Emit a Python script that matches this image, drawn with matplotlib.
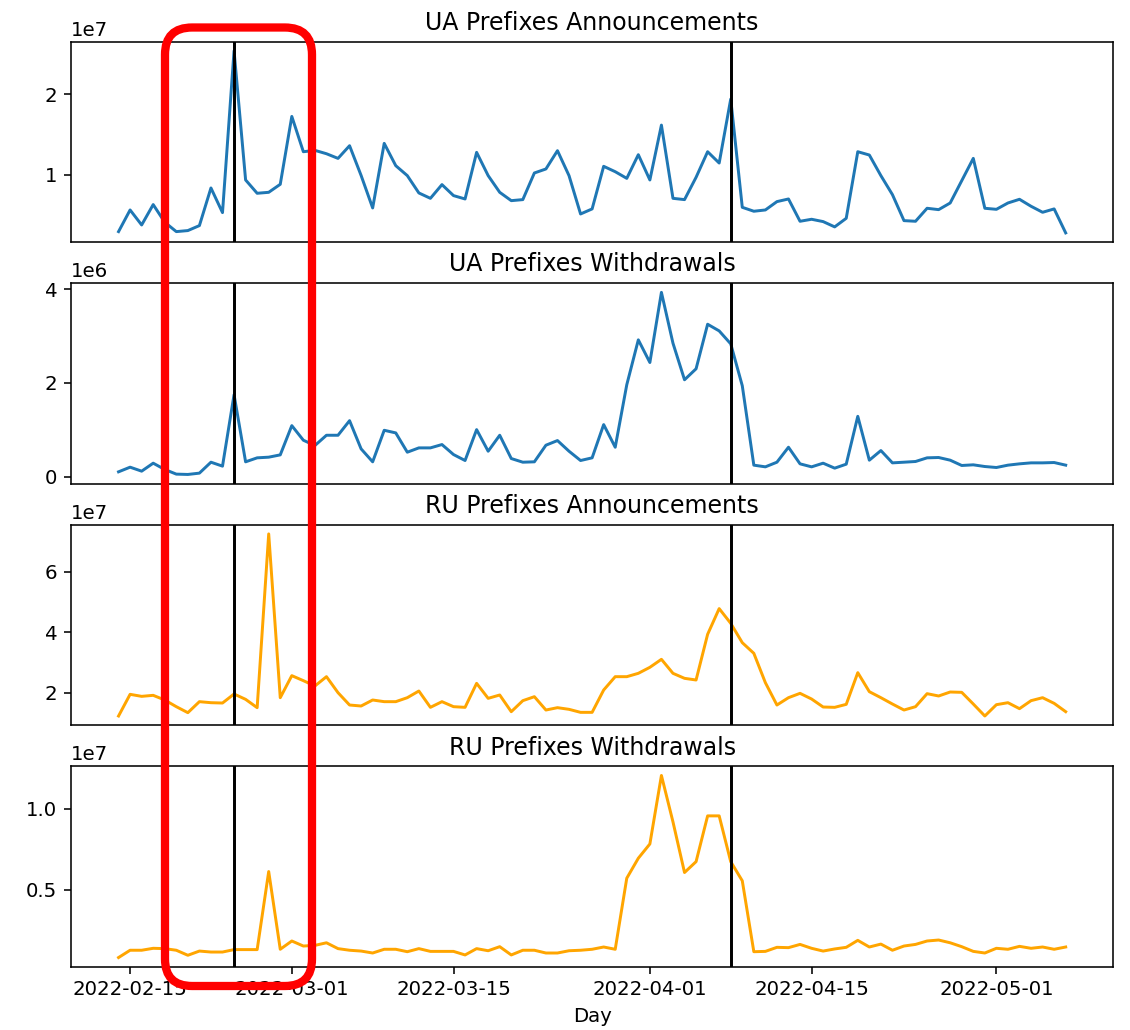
import numpy as np
import pandas as pd
from matplotlib import pyplot as plt
from matplotlib.patches import FancyBboxPatch

# daily values, 2022-02-14 .. 2022-05-07
days = pd.date_range("2022-02-14", "2022-05-07", freq="D")

ua_ann = [0.29, 0.56, 0.373, 0.627, 0.407, 0.29, 0.303, 0.365, 0.834, 0.527,
          2.544, 0.934, 0.768, 0.78, 0.88, 1.726, 1.286, 1.303, 1.261, 1.203,
          1.361, 0.99, 0.585, 1.39, 1.112, 0.988, 0.772, 0.705, 0.876, 0.739,
          0.697, 1.278, 0.988, 0.78, 0.676, 0.689, 1.021, 1.071, 1.299, 0.988,
          0.51, 0.573, 1.104, 1.037, 0.954, 1.249, 0.934, 1.618, 0.705, 0.689,
          0.967, 1.286, 1.145, 1.942, 0.593, 0.544, 0.56, 0.664, 0.697, 0.419,
          0.444, 0.415, 0.349, 0.456, 1.286, 1.245, 0.988, 0.751, 0.427, 0.419,
          0.581, 0.564, 0.647, 0.925, 1.203, 0.581, 0.568, 0.647, 0.693, 0.606,
          0.531, 0.573, 0.274]

ua_wd = [0.106, 0.205, 0.12, 0.29, 0.156, 0.057, 0.05, 0.078, 0.311, 0.227,
         1.749, 0.319, 0.404, 0.418, 0.467, 1.09, 0.779, 0.666, 0.885, 0.885,
         1.196, 0.595, 0.319, 0.991, 0.935, 0.524, 0.616, 0.616, 0.687, 0.474,
         0.347, 1.005, 0.545, 0.885, 0.389, 0.311, 0.319, 0.673, 0.772, 0.545,
         0.347, 0.404, 1.112, 0.63, 1.961, 2.917, 2.435, 3.929, 2.846, 2.067,
         2.301, 3.25, 3.108, 2.832, 1.94, 0.248, 0.212, 0.311, 0.63, 0.276,
         0.212, 0.29, 0.184, 0.269, 1.288, 0.354, 0.559, 0.297, 0.311, 0.326,
         0.404, 0.411, 0.354, 0.241, 0.255, 0.219, 0.198, 0.248, 0.276, 0.297,
         0.297, 0.304, 0.248]

ru_ann = [1.227, 1.945, 1.878, 1.912, 1.757, 1.536, 1.337, 1.702, 1.668, 1.657,
          1.956, 1.779, 1.503, 7.26, 1.834, 2.564, 2.398, 2.221, 2.53, 2.0,
          1.591, 1.558, 1.757, 1.702, 1.702, 1.834, 2.055, 1.514, 1.702, 1.536,
          1.514, 2.309, 1.812, 1.923, 1.37, 1.735, 1.867, 1.425, 1.503, 1.448,
          1.348, 1.348, 2.088, 2.53, 2.53, 2.641, 2.84, 3.105, 2.641, 2.475,
          2.42, 3.934, 4.785, 4.298, 3.657, 3.304, 2.331, 1.591, 1.834, 1.978,
          1.79, 1.525, 1.514, 1.613, 2.663, 2.033, 1.834, 1.624, 1.425, 1.536,
          1.967, 1.89, 2.022, 2.011, 1.624, 1.227, 1.602, 1.668, 1.47, 1.735,
          1.834, 1.646, 1.37]

ru_wd = [0.082, 0.127, 0.127, 0.139, 0.137, 0.127, 0.096, 0.122, 0.116, 0.116,
         0.131, 0.131, 0.131, 0.612, 0.133, 0.184, 0.153, 0.157, 0.173, 0.137,
         0.127, 0.122, 0.11, 0.133, 0.133, 0.118, 0.137, 0.12, 0.12, 0.12,
         0.098, 0.137, 0.124, 0.149, 0.098, 0.127, 0.127, 0.11, 0.11, 0.124,
         0.127, 0.133, 0.147, 0.133, 0.571, 0.694, 0.782, 1.204, 0.918, 0.606,
         0.673, 0.955, 0.955, 0.673, 0.555, 0.118, 0.12, 0.145, 0.143, 0.163,
         0.139, 0.122, 0.135, 0.145, 0.188, 0.147, 0.165, 0.127, 0.153, 0.163,
         0.184, 0.19, 0.173, 0.149, 0.12, 0.11, 0.139, 0.133, 0.151, 0.139,
         0.147, 0.133, 0.147]

events = ["2022-02-24", "2022-04-08"]

titles = ["UA Prefixes Announcements", "UA Prefixes Withdrawals",
          "RU Prefixes Announcements", "RU Prefixes Withdrawals"]
series = [np.array(ua_ann) * 1e7, np.array(ua_wd) * 1e6,
          np.array(ru_ann) * 1e7, np.array(ru_wd) * 1e7]
yticks = [[1e7, 2e7], [0, 2e6, 4e6], [2e7, 4e7, 6e7], [0.5e7, 1.0e7]]
colors = ["tab:blue", "tab:blue", "orange", "orange"]

fig, axs = plt.subplots(4, 1, sharex=True, figsize=(1130 / 142, 1030 / 142), dpi=142)
fig.subplots_adjust(left=0.063, right=0.985, top=0.9595, bottom=0.0615, hspace=0.206)

for ax, title, vals, c, yt in zip(axs, titles, series, colors, yticks):
    ax.plot(days, vals, color=c)
    for d in events:
        ax.axvline(pd.Timestamp(d), color="black")
    ax.set_title(title)
    ax.set_yticks(yt)

for ax in axs[:-1]:
    ax.tick_params(axis="x", bottom=False)

axs[-1].set_xlabel("Day")

# red highlight box drawn over the figure
box = FancyBboxPatch((165 / 1130, 1 - 986 / 1030), (312 - 165) / 1130, (986 - 27.5) / 1030,
                     boxstyle="round,pad=0,rounding_size=0.024",
                     transform=fig.transFigure, fill=False, edgecolor="red",
                     linewidth=4.2, zorder=10, mutation_aspect=1130 / 1030)
fig.patches.append(box)

fig.savefig("out.png", dpi=142)
